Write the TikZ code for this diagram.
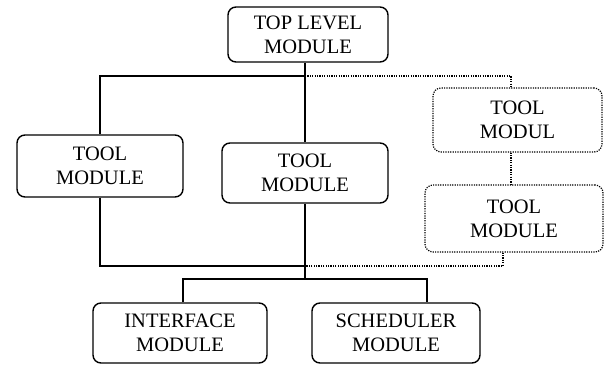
\documentclass[tikz,border=0pt]{standalone}
\usepackage{fontspec}
\setmainfont{Liberation Serif}
\begin{document}
\begin{tikzpicture}[x=1pt,y=-1pt,
  modbox/.style={draw,line width=1.4pt,rounded corners=8pt,align=center,
    font=\fontsize{20.5}{24}\selectfont,inner sep=0pt},
  optbox/.style={modbox,line width=1.2pt,dash pattern=on 1.2pt off 1.2pt},
  wire/.style={line width=1.5pt},
  optwire/.style={line width=1.2pt,dash pattern=on 1.2pt off 1.2pt}]
\useasboundingbox (0,0) rectangle (609,367);

% modules
\node[modbox,minimum width=160pt,minimum height=55pt] (top) at (308,34.5) {TOP LEVEL\\MODULE};
\node[modbox,minimum width=166pt,minimum height=62pt] (left) at (100,166) {TOOL\\MODULE};
\node[modbox,minimum width=166pt,minimum height=60pt] (mid) at (305,173) {TOOL\\MODULE};
\node[optbox,minimum width=169pt,minimum height=64pt] (dtop) at (517.5,120) {TOOL\\MODUL};
\node[optbox,minimum width=178pt,minimum height=67pt] (dbot) at (514,218.5) {TOOL\\MODULE};
\node[modbox,minimum width=174pt,minimum height=60pt] (intf) at (180,333) {INTERFACE\\MODULE};
\node[modbox,minimum width=168pt,minimum height=60pt] (sched) at (396,333) {SCHEDULER\\MODULE};

% junction points of the bus lines
\coordinate (j1) at (305,76);
\coordinate (j2) at (305,266);
\coordinate (j3) at (305,279);
\coordinate (dj) at (511,76);
\coordinate (db) at (503,266);
\coordinate (ji) at (183,279);
\coordinate (js) at (427,279);

% solid connections
\draw[wire] (top.south -| mid.north) -- (mid.north);
\draw[wire] (left.north) |- (j1);
\draw[wire] (left.south) |- (j2);
\draw[wire] (mid.south) -- (j3);
\draw[wire] (ji |- intf.north) -- (ji) -- (js) -- (js |- sched.north);

% optional (dotted) connections
\draw[optwire] (j1) -- (dj) -- (dj |- dtop.north);
\draw[optwire] (dtop.south -| dj) -- (dbot.north -| dj);
\draw[optwire] (db |- dbot.south) -- (db) -- (j2);
\end{tikzpicture}
\end{document}
